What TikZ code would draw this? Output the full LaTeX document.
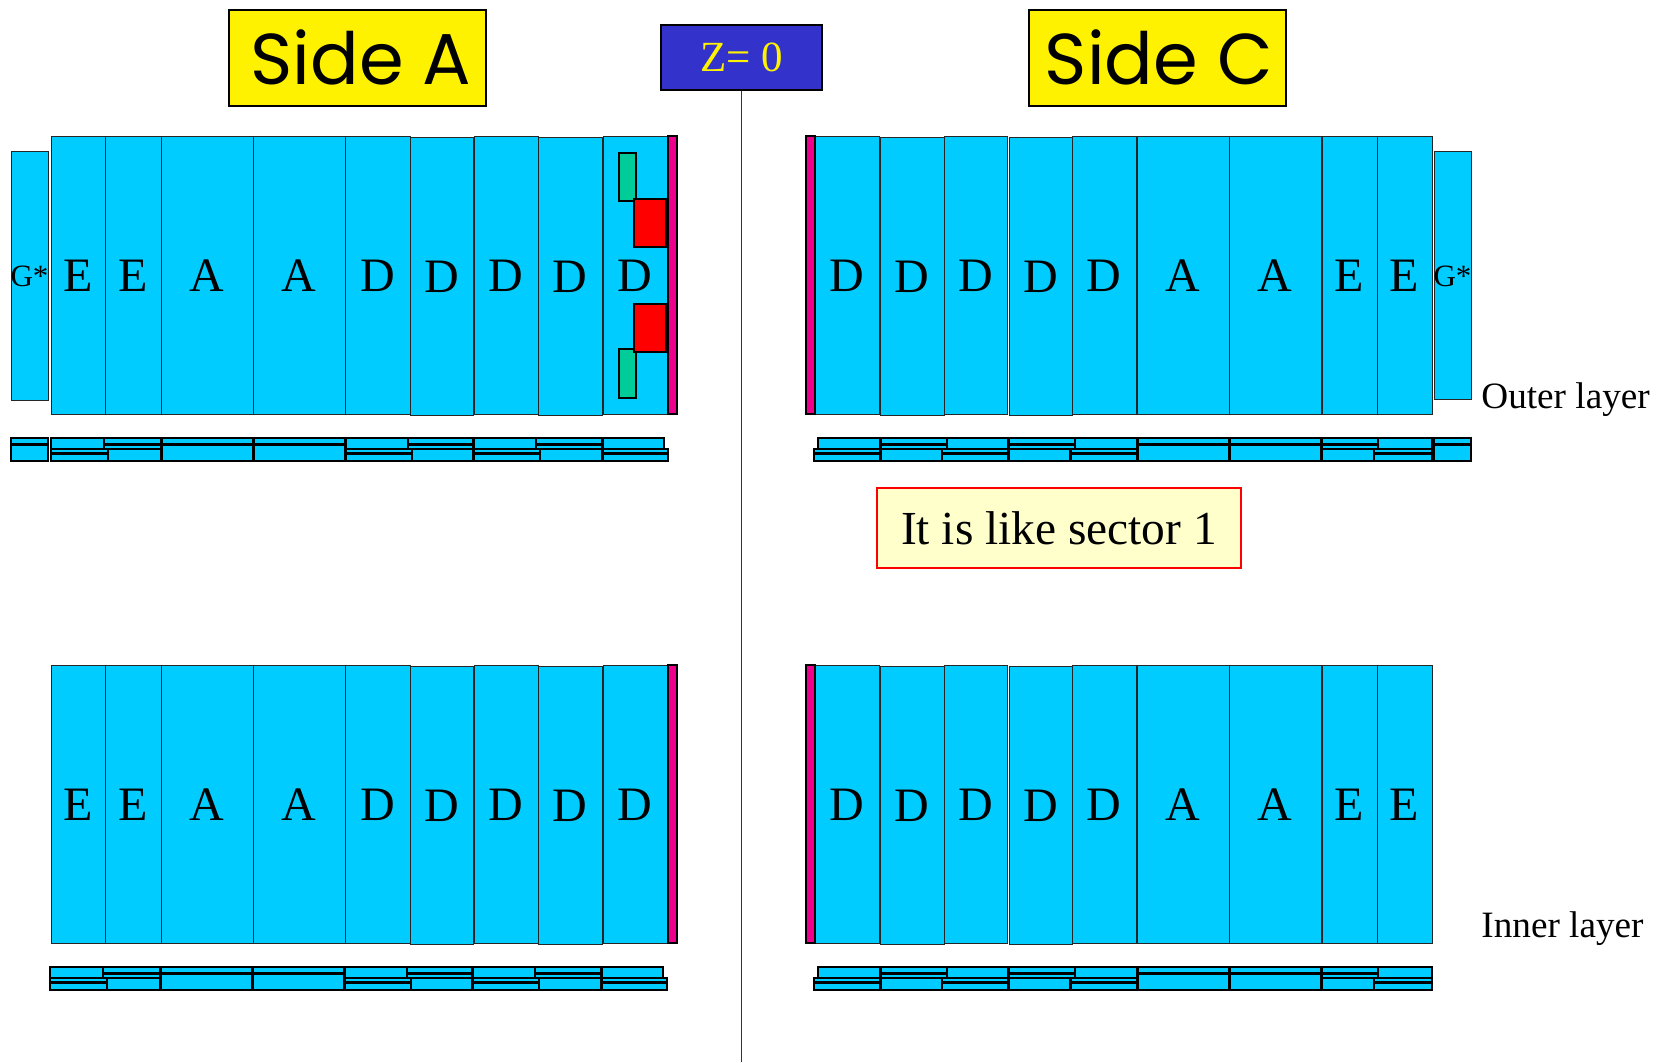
\documentclass[tikz,border=0pt]{standalone}
\usepackage{fontspec}
\setmainfont{Liberation Serif}
\newfontfamily\handfont{Poppins}
\definecolor{cyanmod}{HTML}{00CCFF}
\definecolor{greenmod}{HTML}{00CC99}
\definecolor{bluebox}{HTML}{3333CC}
\definecolor{notefill}{HTML}{FFFFCC}
\tikzset{
  modbox/.style={draw=black!85,line width=0.5pt,fill=cyanmod},
  striprect/.style={draw=black,line width=0.6pt,fill=cyanmod},
  stripband/.style={draw=black,line width=1.6pt},
  letter/.style={font=\fontsize{24}{24}\selectfont,text=black,inner sep=0pt},
  gstar/.style={font=\fontsize{15.5}{16}\selectfont,text=black,inner sep=0pt},
  endcap/.style={draw=black,line width=1pt,fill=magenta},
  sidebox/.style={draw=black,line width=0.8pt,fill=yellow},
  sidetext/.style={font=\handfont\fontsize{36}{36}\selectfont,text=black,inner sep=0pt},
  layerlabel/.style={font=\fontsize{18.6}{20}\selectfont,text=black,inner sep=0pt,anchor=base west},
  greenpad/.style={draw=black,line width=0.8pt,fill=greenmod},
  redpad/.style={draw=black,line width=0.8pt,fill=red},
}
% plain half strip: x1 x2 y1 y2
\newcommand{\stripplain}[4]{\draw[striprect] (#1,#3) rectangle (#2,#4);}
% strip with band: x1 x2 y1 y2 yband
\newcommand{\stripbar}[5]{\draw[striprect] (#1,#3) rectangle (#2,#4);\draw[stripband] (#1,#5) -- (#2,#5);}
% strip rows of side A: y0, x shift
\newcommand{\stripsA}[2]{%
  \begin{scope}[xshift=#2*0.5pt]
  \stripplain{51}{104}{#1}{#1+11}
  \stripbar{51}{108}{#1+11}{#1+23}{#1+15.5}
  \stripbar{104}{161}{#1}{#1+11}{#1+6.5}
  \stripplain{108}{161}{#1+11}{#1+23}
  \stripbar{162}{253}{#1}{#1+23}{#1+6.5}
  \stripbar{254}{345}{#1}{#1+23}{#1+6.5}
  \stripbar{346}{412}{#1+11}{#1+23}{#1+15.5}
  \stripplain{346}{408}{#1}{#1+11}
  \stripbar{408}{473}{#1}{#1+11}{#1+6.5}
  \stripplain{412}{473}{#1+11}{#1+23}
  \stripplain{474}{536}{#1}{#1+11}
  \stripbar{474}{540}{#1+11}{#1+23}{#1+15.5}
  \stripbar{536}{602}{#1}{#1+11}{#1+6.5}
  \stripplain{540}{602}{#1+11}{#1+23}
  \stripplain{603}{664}{#1}{#1+11}
  \stripbar{603}{668}{#1+11}{#1+23}{#1+15.5}
  \end{scope}}
\newcommand{\stripsC}[1]{%
  \stripplain{818}{880}{#1}{#1+11}
  \stripbar{814}{880}{#1+11}{#1+23}{#1+15.5}
  \stripbar{881}{947}{#1}{#1+11}{#1+6.5}
  \stripplain{881}{942}{#1+11}{#1+23}
  \stripplain{947}{1008}{#1}{#1+11}
  \stripbar{942}{1008}{#1+11}{#1+23}{#1+15.5}
  \stripbar{1009}{1075}{#1}{#1+11}{#1+6.5}
  \stripplain{1009}{1070}{#1+11}{#1+23}
  \stripplain{1075}{1137}{#1}{#1+11}
  \stripbar{1071}{1137}{#1+11}{#1+23}{#1+15.5}
  \stripbar{1138}{1229}{#1}{#1+23}{#1+6.5}
  \stripbar{1230}{1321}{#1}{#1+23}{#1+6.5}
  \stripbar{1322}{1378}{#1}{#1+11}{#1+6.5}
  \stripplain{1322}{1374}{#1+11}{#1+23}
  \stripplain{1378}{1432}{#1}{#1+11}
  \stripbar{1374}{1432}{#1+11}{#1+23}{#1+15.5}}
\begin{document}
\begin{tikzpicture}[x=0.5pt,y=-0.5pt]
\useasboundingbox (0,0) rectangle (1659,1062);
% central line
\node[draw=black,line width=0.8pt,fill=bluebox,text=yellow,font=\fontsize{21.5}{22}\selectfont,
      minimum width=80.5pt,minimum height=32.5pt,inner sep=0pt] (zbox) at (741.5,57.5) {Z= 0};
\coordinate (zend) at (741.5,1062);
\draw[black!80,line width=0.9pt] (zbox.south) -- (zend);
% headings
\draw[sidebox] (229,10) rectangle (486,106);
\node[sidetext] (sidea) at (361,57) {Side A};
\draw[sidebox] (1029,10) rectangle (1286,106);
\node[sidetext] (sidec) at (1159,57) {Side C};
% modules, two layers
\foreach \top/\lay in {136/o,665/i}{
  \pgfmathsetmacro{\bot}{\top+278}
  \pgfmathsetmacro{\mid}{\top+140}
  \foreach \xa/\xb/\txt/\dy [count=\n] in {51/105.5/E/0,105.5/161/E/0,161/253/A/0,253/345/A/0,345/410/D/0,410/473/D/1,474.5/538/D/0,538/602/D/1,603/667/D/0}{
    \draw[modbox] (\xa,\top+\dy) rectangle (\xb,\bot+\dy);
    \node[letter] (a\lay\n) at ({(\xa+\xb)/2},\mid+\dy) {\txt};
  }
  \foreach \xa/\xb/\txt/\dy [count=\n] in {815/879/D/0,880.5/944/D/1,944/1007.5/D/0,1009/1072/D/1,1072/1136/D/0,1137/1229/A/0,1229.5/1321/A/0,1322/1377/E/0,1377/1432/E/0}{
    \draw[modbox] (\xa,\top+\dy) rectangle (\xb,\bot+\dy);
    \node[letter] (c\lay\n) at ({(\xa+\xb)/2},\mid+\dy) {\txt};
  }
  \draw[endcap] (667.5,\top) rectangle (677,\bot);
  \draw[endcap] (805.5,\top) rectangle (815,\bot);
}
% G* chambers
\draw[modbox] (11,151) rectangle (48,400);
\node[gstar] (ga) at (29.5,276) {G*};
\draw[modbox] (1434,151) rectangle (1471,399);
\node[gstar] (gc) at (1452.5,276) {G*};
% green and red pads
\draw[greenpad] (619,153) rectangle (636,201);
\draw[greenpad] (619,349) rectangle (636,398);
\draw[redpad] (634,199) rectangle (666,247);
\draw[redpad] (634,304) rectangle (666,352);
% end-view strips
\stripsA{438}{0}
\stripsA{967}{-1}
\stripsC{438}
\stripsC{967}
\stripbar{11}{48}{438}{461}{444.5}
\stripbar{1434}{1471}{438}{461}{444.5}
% note
\node[draw=red,line width=0.7pt,fill=notefill,font=\fontsize{23.7}{24}\selectfont,
      minimum width=182pt,minimum height=40pt,inner sep=0pt] (note) at (1059,528) {It is like sector 1};
% layer labels
\node[layerlabel] (outer) at (1481,408) {Outer layer};
\node[layerlabel] (inner) at (1481,937) {Inner layer};
\end{tikzpicture}
\end{document}
